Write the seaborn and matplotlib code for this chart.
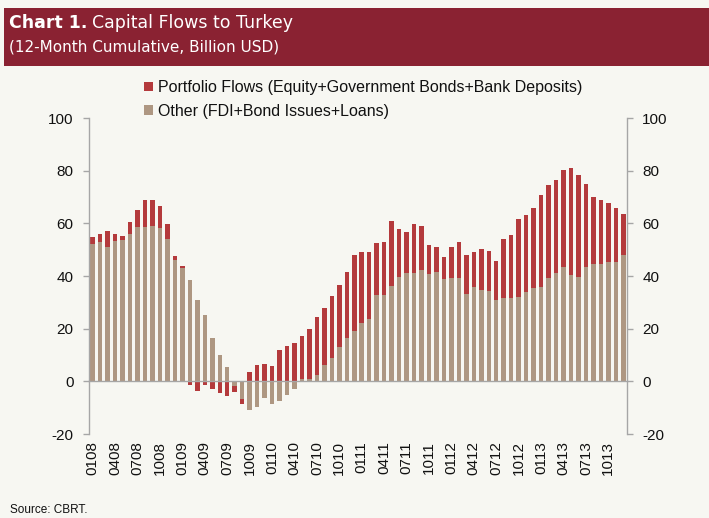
import numpy as np
import matplotlib
matplotlib.use("Agg")
import matplotlib.pyplot as plt
import seaborn as sns
from matplotlib.patches import Rectangle, Patch

# ---------------- data ----------------
years = ["08", "09", "10", "11", "12", "13"]
month_nums = ["01", "02", "03", "04", "05", "06", "07", "08", "09", "10", "11", "12"]
months = [m + y for y in years for m in month_nums]

tick_labels = ["0108", "0408", "0708", "1008", "0109", "0409", "0709", "1009",
               "0110", "0410", "0710", "1010", "0111", "0411", "0711", "1011",
               "0112", "0412", "0712", "1012", "0113", "0413", "0713", "1013"]

other = [52.1, 52.9, 51.0, 53.2, 53.7, 55.9, 58.5, 58.6, 58.8, 58.2, 54.0, 46.2,
         43.1, 38.3, 30.9, 25.3, 16.4, 10.0, 5.6, -1.7, -6.7, -10.7, -9.8, -6.5,
         -8.5, -7.4, -5.2, -2.9, 1.0, 1.0, 2.5, 6.1, 8.7, 13.1, 16.4, 19.2,
         22.2, 23.7, 32.8, 32.8, 36.2, 39.6, 41.2, 41.3, 42.3, 40.8, 41.5, 38.9,
         39.3, 39.3, 33.3, 35.7, 34.7, 34.3, 30.8, 31.6, 31.6, 32.2, 34.0, 35.5,
         36.0, 39.4, 41.0, 43.4, 40.4, 39.6, 43.4, 44.7, 44.7, 45.3, 45.3, 48.0]

portfolio = [2.6, 2.9, 5.9, 2.6, 1.5, 4.6, 6.5, 10.2, 9.9, 8.3, 5.8, 1.4,
             0.7, -1.5, -3.7, -1.5, -2.8, -4.4, -5.6, -2.5, -1.9, 3.5, 6.2, 6.6,
             5.9, 12.0, 13.6, 14.5, 16.3, 18.9, 21.9, 21.8, 23.7, 23.5, 25.1, 28.9,
             26.8, 25.3, 19.6, 20.1, 24.5, 18.4, 15.4, 18.5, 16.7, 11.1, 9.6, 8.2,
             11.6, 13.5, 14.7, 13.5, 15.4, 15.1, 14.8, 22.3, 24.0, 29.5, 29.1, 30.5,
             34.7, 35.3, 35.3, 36.9, 40.5, 38.9, 31.7, 25.4, 24.0, 22.3, 20.4, 15.6]

y_ticks = [-20, 0, 20, 40, 60, 80, 100]

label_port = "Portfolio Flows (Equity+Government Bonds+Bank Deposits)"
label_other = "Other (FDI+Bond Issues+Loans)"

# ---------------- style ----------------
bg = "#F7F7F2"
red = "#B43A3C"
tan = "#AE9782"
band = "#8A2232"
grey = "#A6A6A6"
txt = "#111111"

sns.set_style("white")
plt.rcParams["font.family"] = ["Liberation Sans", "DejaVu Sans"]
plt.rcParams["axes.unicode_minus"] = False

other_a = np.array(other)
port_a = np.array(portfolio)
port_bottom = np.where(port_a >= 0, np.maximum(other_a, 0), np.minimum(other_a, 0))

fig = plt.figure(figsize=(7.09, 5.18), dpi=100, facecolor=bg)
ax = fig.add_axes([89 / 709, 1 - 434 / 518, (627 - 89) / 709, (434 - 118) / 518])
ax.set_facecolor("none")

sns.barplot(x=months, y=other, order=months, color=tan, saturation=1, width=0.6,
            linewidth=0, errorbar=None, ax=ax)
sns.barplot(x=months, y=portfolio, order=months, color=red, saturation=1, width=0.6,
            linewidth=0, errorbar=None, ax=ax, bottom=port_bottom)

ax.set_xlim(-0.5, len(months) - 0.5)
ax.set_ylim(-20, 100)
ax.set_xlabel("")
ax.set_ylabel("")

# spines
ax.spines["top"].set_visible(False)
for s in ["left", "right", "bottom"]:
    ax.spines[s].set_color(grey)
    ax.spines[s].set_linewidth(1.0)
ax.spines["bottom"].set_position(("data", 0))

# category boundary tick marks on the zero line
ax.set_xticks(np.arange(-0.5, len(months), 3))
ax.set_xticklabels([])
ax.tick_params(axis="x", direction="out", length=4, color=grey, width=1)

# y axis on both sides
ax.set_yticks(y_ticks)
ax.tick_params(axis="y", which="both", left=True, right=True, labelleft=True,
               labelright=True, direction="out", length=4, color=grey, width=1,
               labelsize=11, pad=7, labelcolor=txt)

# date labels at the bottom
sec = ax.secondary_xaxis("bottom")
sec.set_xticks(np.arange(0, len(months), 3))
sec.set_xticklabels(tick_labels, rotation=90, fontsize=11, color=txt)
sec.tick_params(length=0, pad=5)
sec.spines["bottom"].set_visible(False)

# legend
handles = [Patch(facecolor=red, edgecolor="none"), Patch(facecolor=tan, edgecolor="none")]
fig.legend(handles, [label_port, label_other], loc="upper left",
           bbox_to_anchor=(144 / 709, 1 - 80 / 518), frameon=False, fontsize=11.5,
           handlelength=0.55, handleheight=0.55, handletextpad=0.35, labelspacing=0.56,
           borderaxespad=0, borderpad=0, labelcolor=txt)

# header band
fig.patches.append(Rectangle((4 / 709, 1 - 66 / 518), 1, 58 / 518,
                             transform=fig.transFigure, facecolor=band,
                             edgecolor="none", zorder=0))
head_font = ["DejaVu Sans"]
t1 = fig.text(9 / 709, 1 - 28 / 518, "Chart 1.", color="white", fontsize=12.5,
              fontweight="bold", family=head_font, va="baseline")
fig.canvas.draw()
bb = t1.get_window_extent(renderer=fig.canvas.get_renderer())
x_next = (bb.x1 + 5) / fig.bbox.width
fig.text(x_next, 1 - 28 / 518, "Capital Flows to Turkey", color="white",
         fontsize=12.5, family=head_font, va="baseline")
fig.text(9 / 709, 1 - 52 / 518, "(12-Month Cumulative, Billion USD)", color="white",
         fontsize=11, family=head_font, va="baseline")

fig.text(10 / 709, 1 - 510 / 518, "Source: CBRT.", fontsize=8.5, color=txt,
         va="center")

fig.savefig("out.png", dpi=100, facecolor=bg)
